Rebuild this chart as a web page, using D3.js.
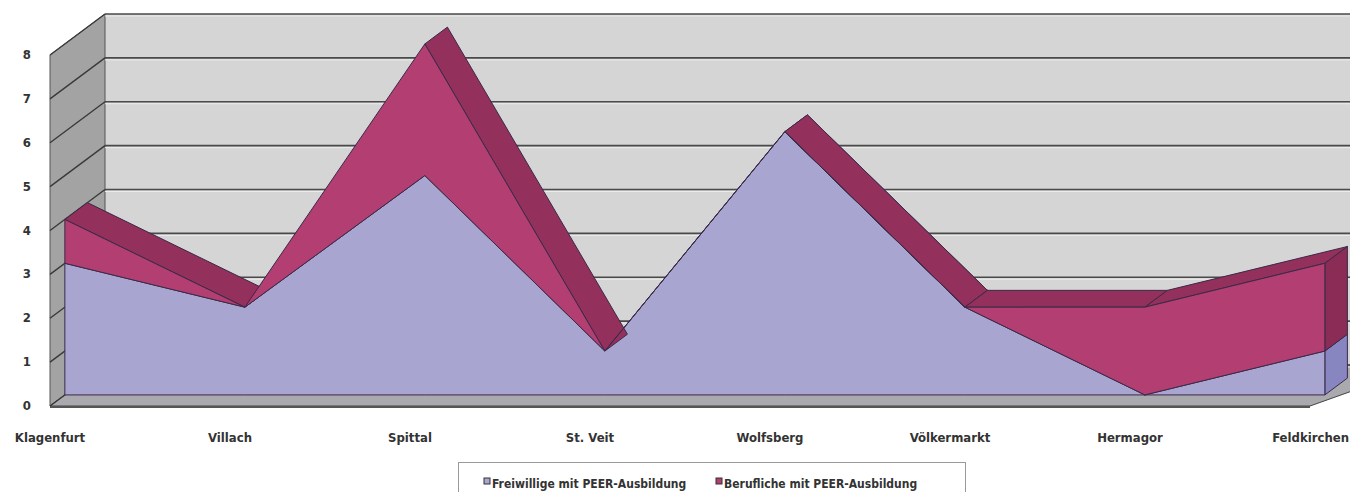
<!DOCTYPE html>
<html><head><meta charset="utf-8">
<script src="https://cdn.jsdelivr.net/npm/d3@7"></script>
<style>body{margin:0;background:#fff}svg{display:block}</style>
</head><body><svg id="c" width="1350" height="492"></svg>
<script>
const categories = ["Klagenfurt","Villach","Spittal","St. Veit","Wolfsberg","Völkermarkt","Hermagor","Feldkirchen"];
const freiwillige = [3,2,5,1,6,2,0,1];
const berufliche = [1,0,3,0,0,0,2,2];
const yTicks = [0,1,2,3,4,5,6,7,8];
const seriesNames = ["Freiwillige mit PEER-Ausbildung","Berufliche mit PEER-Ausbildung"];

const svg = d3.select("#c");
const x = d3.scalePoint().domain(categories).range([50,1310]);
const y = d3.scaleLinear().domain([0,8]).range([406,55]);
const D = [55,-41];           // full depth vector
const t1 = 0.27, t2 = 0.68;   // series slab depth fractions
const P = (px,py,t)=>[px+D[0]*t, py+D[1]*t];
const font = "'Liberation Sans Narrow','DejaVu Sans Condensed','Liberation Sans',sans-serif";

const poly = pts => "M"+pts.map(p=>p.join(",")).join("L")+"Z";

// walls
const x0 = x.range()[0], x1 = x.range()[1]+60;
svg.append("path").attr("d",poly([P(x0,y(8),1),[x1+D[0],y(8)+D[1]],[x1+D[0],y(0)+D[1]],P(x0,y(0),1)])).attr("fill","#d5d5d5");
svg.append("path").attr("d",poly([[x0,y(8)],P(x0,y(8),1),P(x0,y(0),1),[x0,y(0)]])).attr("fill","#a3a3a3").attr("stroke","#555").attr("stroke-width",1);
// floor
svg.append("path").attr("d",poly([[x0,y(0)],P(x0,y(0),1),[x1+D[0],y(0)+D[1]],[x.range()[1],y(0)]])).attr("fill","#a9a9ae").attr("stroke","#444").attr("stroke-width",1);
svg.append("path").attr("d",poly([[x0,y(0)],[x.range()[1],y(0)],[x.range()[1],y(0)+2],[x0,y(0)+2]])).attr("fill","#555");

// gridlines
yTicks.forEach(v=>{
  const b = P(x0,y(v),1);
  svg.append("line").attr("x1",b[0]).attr("y1",b[1]).attr("x2",1350).attr("y2",b[1]).attr("stroke","#4a4a4a").attr("stroke-width",1.6);
  svg.append("line").attr("x1",b[0]).attr("y1",b[1]+2).attr("x2",1350).attr("y2",b[1]+2).attr("stroke","#ececec").attr("stroke-width",1);
  svg.append("line").attr("x1",x0).attr("y1",y(v)).attr("x2",b[0]).attr("y2",b[1]).attr("stroke","#3a3a3a").attr("stroke-width",1.4);
  svg.append("text").attr("x",31).attr("y",y(v)+4).attr("text-anchor","end").attr("font-family",font).attr("font-weight","bold").attr("font-size",13).attr("fill","#333").text(v);
});

// stack
const rows = categories.map((c,i)=>({cat:c, f:freiwillige[i], b:berufliche[i]}));
const stack = d3.stack().keys(["f","b"])(rows);
const styles = [
  {front:"#a8a6d1", top:"#9a98c8", cap:"#8886c0"},
  {front:"#b23e72", top:"#93305c", cap:"#8a2c55"}
];
const edge = "#3b2a48";

stack.forEach((layer,li)=>{
  const st = styles[li];
  const g = svg.append("g");
  const front = layer.map((d,i)=>P(x(categories[i]),y(d[1]),t1));
  const frontLo = layer.map((d,i)=>P(x(categories[i]),y(d[0]),t1));
  const dd = [D[0]*(t2-t1), D[1]*(t2-t1)];
  // top surfaces
  for(let i=0;i<front.length-1;i++){
    const A=front[i], B=front[i+1];
    const cross = (B[0]-A[0])*dd[1]-(B[1]-A[1])*dd[0];
    if(cross<0){
      g.append("path").attr("d",poly([A,B,[B[0]+dd[0],B[1]+dd[1]],[A[0]+dd[0],A[1]+dd[1]]]))
        .attr("fill",st.top).attr("stroke",edge).attr("stroke-width",1).attr("stroke-linejoin","round");
    }
  }
  // right end cap
  const n = front.length-1;
  const F=front[n], L=frontLo[n];
  g.append("path").attr("d",poly([L,F,[F[0]+dd[0],F[1]+dd[1]],[L[0]+dd[0],L[1]+dd[1]]]))
    .attr("fill",st.cap).attr("stroke",edge).attr("stroke-width",1);
  // front face
  g.append("path").attr("d",poly(front.concat(frontLo.slice().reverse())))
    .attr("fill",st.front).attr("stroke",edge).attr("stroke-width",1).attr("stroke-linejoin","round");
});

// category labels
categories.forEach((c,i)=>{
  const last = i===categories.length-1;
  svg.append("text").attr("x",last?1349:x(c)).attr("y",442).attr("text-anchor",last?"end":"middle")
    .attr("font-family",font).attr("font-weight","bold").attr("font-size",13).attr("fill","#333").text(c);
});

// legend
const lg = svg.append("g");
lg.append("rect").attr("x",458.5).attr("y",462.5).attr("width",507).attr("height",32).attr("fill","#fff").attr("stroke","#999");
const legX = [484,716];
seriesNames.forEach((s,i)=>{
  lg.append("rect").attr("x",legX[i]).attr("y",478).attr("width",6).attr("height",6).attr("fill",styles[i].front).attr("stroke","#333").attr("stroke-width",1);
  lg.append("text").attr("x",legX[i]+8).attr("y",488).attr("font-family",font).attr("font-weight","bold").attr("font-size",12).attr("fill","#333").text(s);
});
</script></body></html>
